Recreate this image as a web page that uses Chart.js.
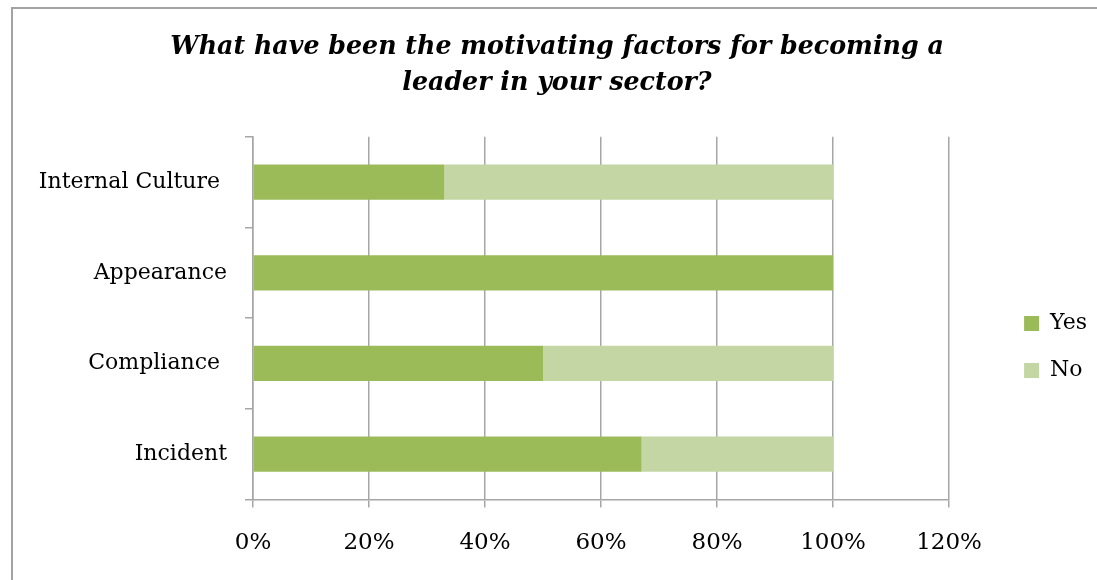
<!DOCTYPE html>
<html>
<head>
<meta charset="utf-8">
<script src="https://cdn.jsdelivr.net/npm/chart.js@4"></script>
<style>
  html, body { margin: 0; padding: 0; background: #fff; overflow: hidden; }
  #frame {
    position: absolute; left: 11px; top: 7px; width: 2000px; height: 2000px;
    border-left: 2px solid #a3a3a3; border-top: 2px solid #a3a3a3;
  }
  #c { position: absolute; left: 0; top: 0; }
</style>
</head>
<body>
<div id="frame"></div>
<canvas id="c" width="1097" height="580"></canvas>
<script>
// Survey answers per motivating factor (share of respondents, %)
const categories = ['Internal Culture ', 'Appearance', 'Compliance ', 'Incident'];
const yesValues = [33, 100, 50, 67];
const noValues = [67, 0, 50, 33];
const seriesNames = ['Yes', 'No'];
const titleLines = ['What have been the motivating factors for becoming a', 'leader in your sector?'];

const FONT = "'DejaVu Serif', serif";
const GRID = '#a6a6a6';

new Chart(document.getElementById('c'), {
  type: 'bar',
  data: {
    labels: categories,
    datasets: [
      { label: seriesNames[0], data: yesValues, backgroundColor: '#9bbb59', borderWidth: 0 },
      { label: seriesNames[1], data: noValues, backgroundColor: '#c4d6a4', borderWidth: 0 }
    ]
  },
  options: {
    indexAxis: 'y',
    responsive: false,
    animation: false,
    devicePixelRatio: 1,
    barPercentage: 0.39,
    categoryPercentage: 1,
    layout: { padding: { left: 17, right: 0, top: 0, bottom: 1 } },
    scales: {
      x: {
        stacked: true,
        min: 0,
        max: 120,
        ticks: {
          stepSize: 20,
          color: '#000',
          padding: 22,
          maxRotation: 0,
          font: { family: FONT, size: 23 },
          callback: v => v + '%'
        },
        grid: { color: GRID, lineWidth: 1.5, tickLength: 8, drawTicks: true },
        border: { color: GRID, width: 1.5 }
      },
      y: {
        stacked: true,
        ticks: { color: '#000', padding: 18, font: { family: FONT, size: 22 } },
        grid: { color: GRID, lineWidth: 1.5, tickLength: 8, drawOnChartArea: false, offset: true },
        border: { color: GRID, width: 1.5 },
        afterFit: s => { s.width = 236; }
      },
      // empty band that keeps the legend clear of the plot
      spacer: {
        type: 'linear',
        position: 'right',
        display: true,
        grid: { display: false },
        border: { display: false },
        ticks: { display: false },
        afterFit: s => { s.width = 50; }
      }
    },
    plugins: {
      title: {
        display: true,
        text: titleLines,
        color: '#000',
        font: { family: FONT, size: 25.3, weight: 'bold', style: 'italic', lineHeight: 1.44 },
        padding: { top: 29, bottom: 35 }
      },
      legend: {
        position: 'right',
        maxWidth: 98,
        title: { display: true, text: '', font: { size: 10, lineHeight: 1 }, padding: { top: 0, bottom: 105 } },
        labels: {
          color: '#000',
          boxWidth: 15,
          boxHeight: 15,
          padding: 25,
          font: { family: FONT, size: 22 }
        }
      },
      tooltip: { enabled: false }
    }
  }
});
</script>
</body>
</html>
